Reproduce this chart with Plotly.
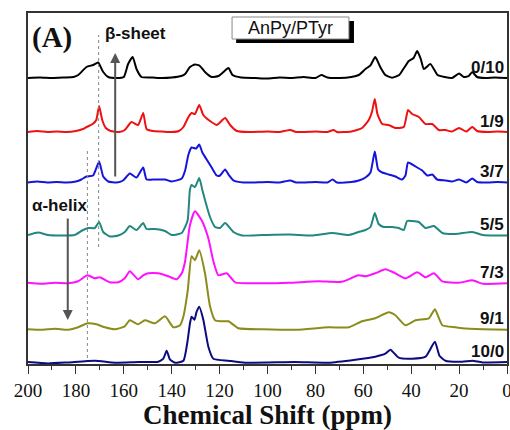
import plotly.graph_objects as go

# 13C CP/MAS spectra of AnPy/PTyr blends, stacked with vertical offsets
labels = ["0/10", "1/9", "3/7", "5/5", "7/3", "9/1", "10/0"]
colors = ["#000000", "#ee1111", "#1414dd", "#22887f", "#ff11ff", "#8c8c1c", "#0c0c80"]
offsets = [286, 232, 181.5, 129, 80.7, 34.7, 1.3]

ppm_0_10 = [200, 195, 190, 185, 181, 179, 175.6, 172.8, 170.7, 168.6, 166.5, 163, 160, 158.2, 156.3, 154.7,
            152.6, 148, 144, 140, 136, 134.4, 132.4, 130.3, 128.2, 126.1, 123.3, 120.5, 118.4, 116.3, 114.6,
            111, 105, 100, 95, 90, 85, 80, 77.5, 75, 70, 65, 61.9, 59.1, 57, 55, 52.9, 50.8, 48, 45, 43, 41,
            39, 37.5, 36, 34.7, 32, 29, 26, 23, 20, 18, 16, 14.5, 12.5, 9, 5, 0]
int_0_10 = [0, 0.5, 0, 0.5, 1, 3, 11, 13, 15.5, 6, 1, 0, 1, 14, 21, 9,
            1, 0.5, 0, 0.5, 2, 4, 11, 13.5, 12, 6, 1, 2, 6, 10, 3,
            0.5, 0, -0.5, 0.5, 0, 1, 0, 3, 0.5, 0, 1, 3, 9, 12.7, 21, 11, 3, 0.3, 3, 10, 17,
            20, 27, 19, 9, 14, 3, 1, 0, 4.5, 1, 2, 6, 1, 0, 0.5, 0]

ppm_1_9 = [200, 196, 192, 188, 184, 180, 177, 175.5, 173, 171.5, 170.3, 169, 167.5, 165.5, 162, 159.6,
           156.8, 154, 151.9, 150.5, 148, 144, 140, 137, 135.1, 133, 131.7, 130.3, 128.5, 126.8, 124,
           121.2, 117.7, 115.6, 112.8, 108, 100, 95, 90.5, 88, 80, 75, 72.4, 71, 65, 60.5, 57.7, 56.4,
           55.2, 54.1, 52.1, 49.4, 46.6, 43.1, 41.3, 39.6, 36.8, 34, 31.2, 28.5, 25.7, 23, 20, 17,
           14.5, 12.5, 8, 4, 0]
int_1_9 = [0, 1, 0, 0.5, 0, 1, 3, 5, 8, 12, 26, 12, 4, 1, 0, 2,
           10, 7, 19, 3, 1, 0.5, 0, 1, 5, 15, 19, 18, 27, 17, 11,
           7, 14, 7, 1, 0, 0.5, 0, 2, 0, 0.5, 0, 2, 0, 0.5, 4, 12, 20,
           33, 18, 8, 7, 4, 5, 22, 18, 15, 8, 8, 2, 2, 0.5, 4, 0.5,
           5, 1, 0, 0.5, 0]

ppm_3_7 = [200, 196, 192, 188, 184, 180, 177.7, 175.6, 172.8, 170.3, 168.6, 166.5, 163, 160.3, 157.5,
           154.7, 151.9, 150.5, 147, 142.8, 140, 135.8, 134.4, 133, 131.7, 129.8, 128.5, 127.2, 125.4,
           123.3, 121.2, 119.8, 117.7, 116.3, 114.2, 110, 100, 95, 90.5, 88, 80, 75, 72.8, 71, 65, 61.9,
           59.1, 57, 55.2, 53.8, 52.1, 49.4, 46.6, 43.8, 42.4, 41.3, 38.2, 35.4, 33.3, 31.2, 29.2, 25.7,
           23, 20, 17, 14.5, 12.5, 8, 4, 0]
int_3_7 = [0, 1, 0, 0.5, 0, 1, 3, 6, 7, 21, 6, 1, 0, 2, 9,
           5, 15, 3, 3, 3, 1, 4, 12, 28, 35, 34, 38, 30, 23,
           15, 7, 7, 13, 8, 2, 0, 0.5, 0, 2, 0, 0.5, 0, 3, 0, 0.5, 2,
           5, 10, 31, 13, 10, 8, 6, 3, 7, 20, 16, 12, 7, 8, 3, 2,
           1, 3, 0, 4, 0.5, 0, 0.5, 0]

ppm_5_5 = [200, 195.8, 191.6, 186, 180.5, 177, 174.9, 172.1, 170.3, 168.6, 165.8, 162.3, 159.6, 157.5,
           154.7, 151.9, 150.5, 147, 142.8, 140, 135.8, 134.4, 133.3, 132.4, 131.7, 130.3, 128.5, 127.2,
           126.1, 124, 121.9, 119.8, 117.7, 114.2, 110.7, 102, 91, 81, 73, 66, 62, 59.1, 57, 55.2, 53.6,
           51.5, 48, 45.2, 43.1, 41.7, 39.6, 36.8, 34, 30.5, 27, 21.5, 14.5, 10, 5, 0]
int_5_5 = [0, 2.5, 0, -0.5, 0, 5, 7, 7, 13, 3, -1.5, -0.5, 3, 9,
           5, 12, 6, 6, 4, 0, 2, 8, 15, 45, 50, 48, 57, 45,
           35, 18, 8, 7, 12, 3, -0.5, 0, 0.5, -0.5, 2, 0, 3, 5, 8, 22, 11,
           8, 8, 7, 5, 14, 14, 13, 7, 9, 2, 1, 3, 0, -0.5, -0.5]

ppm_7_3 = [200, 194.4, 188.8, 183.3, 179.1, 175.2, 172.1, 170, 165.8, 162.3, 159.6, 157.5, 154, 151.9,
           149.8, 145.6, 141.4, 137.9, 135.8, 134.4, 132.4, 130.3, 127.5, 124.7, 122.6, 120.5, 117,
           113.5, 102, 91, 78.7, 69, 62, 59.1, 55, 50.8, 46.6, 42.4, 37.5, 34, 30.5, 27, 20, 14.5, 10, 0]
int_7_3 = [0.5, -0.5, 0.5, 0, 2, 8, 5, 6, 1, 1, 5, 12, 4, 8,
           10, 10, 7, 4, 10, 22, 58, 72, 63, 45, 22, 8, 10,
           1, 0, 0.5, 2, 1.5, 8, 7, 10, 14, 10, 5, 11, 6, 10, 2, 0.5, 3, -0.5, 0]

ppm_9_1 = [200, 194.4, 188.8, 183.3, 179.1, 175.2, 171.4, 167.9, 163.7, 159.6, 157.5, 154, 151.2, 147,
           142.8, 139.3, 136.5, 135.1, 133.3, 131.7, 130.3, 128.5, 126.1, 124, 121.9, 119.1, 116.3,
           112.1, 102, 88, 74.5, 66, 60.5, 55, 49.4, 46.6, 42.4, 38.2, 32.6, 30.1, 27, 21.5, 18.7, 10, 0]
int_9_1 = [0, -0.5, 0.5, -0.5, 2, 6, 5, 2, 0, 3, 9, 5, 9, 6,
           13, 2, 4, 13, 39, 73, 69, 79, 56, 23, 9, 8, 8,
           1, 0, -0.5, 2, 2, 8, 11, 17, 14, 4, 9, 11, 20, 4, 2, 1, 0, -0.5]

ppm_10_0 = [200, 191.6, 183.3, 172.1, 163.7, 154, 145.6, 143.5, 142.1, 140.7, 138.6, 135.1, 133.3, 132.4,
            131.7, 130.5, 129.6, 128.5, 126.8, 124.7, 122.6, 116.3, 109.4, 88.4, 74.5, 63.3, 55, 50.8,
            48.7, 45.2, 39.6, 34, 30.1, 28.2, 25.7, 18.7, 14.5, 10.2, 0]
int_10_0 = [0.7, -0.7, 0.3, 2, 0, 0.7, 1, 4, 12, 3, 0, 2, 23, 39,
            46, 43, 51, 56, 43, 16, 4, 2, 0, 0.7, 0, 3, 6, 9,
            13, 5, 4, 6, 21, 7, 2, 1, 2, 0.3, 0.7]

ppm_sets = [ppm_0_10, ppm_1_9, ppm_3_7, ppm_5_5, ppm_7_3, ppm_9_1, ppm_10_0]
int_sets = [int_0_10, int_1_9, int_3_7, int_5_5, int_7_3, int_9_1, int_10_0]

# secondary-structure reference shifts (ppm)
beta_sheet_ppm = 170.5
alpha_helix_ppm = 175.2

fig = go.Figure()
for name, col, off, xs, ys in zip(labels, colors, offsets, ppm_sets, int_sets):
    fig.add_trace(go.Scatter(
        x=xs, y=[v + off for v in ys], mode="lines", name=name,
        line=dict(color=col, width=2, shape="spline", smoothing=0.5),
        showlegend=False, hoverinfo="skip"))
    fig.add_annotation(x=0.6, y=off + 11, text="<b>%s</b>" % name, showarrow=False,
                       xanchor="right", yanchor="middle",
                       font=dict(family="Liberation Sans", size=17, color="#111"))

# dotted guide lines at the beta-sheet and alpha-helix carbonyl shifts
fig.add_shape(type="line", x0=beta_sheet_ppm, x1=beta_sheet_ppm, y0=117, y1=329,
              line=dict(color="#888", width=1, dash="dot"))
fig.add_shape(type="line", x0=alpha_helix_ppm, x1=alpha_helix_ppm, y0=6, y1=216,
              line=dict(color="#888", width=1, dash="dot"))

# trend arrows
fig.add_annotation(x=163.6, y=311, ax=163.6, ay=186, axref="x", ayref="y", xref="x", yref="y",
                   text="", showarrow=True, arrowhead=2, arrowsize=1, arrowwidth=2, arrowcolor="#555")
fig.add_annotation(x=183.4, y=44, ax=183.4, ay=147, axref="x", ayref="y", xref="x", yref="y",
                   text="", showarrow=True, arrowhead=2, arrowsize=1, arrowwidth=2, arrowcolor="#555")

fig.add_annotation(x=155.3, y=331, text="<b>\u03b2-sheet</b>", showarrow=False,
                   font=dict(family="Liberation Sans", size=17, color="#111"))
fig.add_annotation(x=187, y=159, text="<b>\u03b1-helix</b>", showarrow=False,
                   font=dict(family="Liberation Sans", size=17, color="#111"))
fig.add_annotation(x=190, y=327, text="<b>(A)</b>", showarrow=False,
                   font=dict(family="Liberation Serif", size=29, color="#111"))

# sample legend box with drop shadow
fig.add_shape(type="rect", x0=113.1, x1=63.9, y0=321, y1=343, fillcolor="#000",
              line=dict(width=0))
fig.add_shape(type="rect", x0=114.8, x1=66, y0=325, y1=347, fillcolor="#fff",
              line=dict(color="#888", width=1))
fig.add_annotation(x=90.4, y=336, text="AnPy/PTyr", showarrow=False,
                   font=dict(family="Liberation Sans", size=18, color="#111"))

fig.add_annotation(xref="paper", yref="paper", x=0.5, y=-0.145, text="<b>Chemical Shift (ppm)</b>",
                   showarrow=False, yanchor="middle",
                   font=dict(family="Liberation Serif", size=27, color="#111"))

fig.update_xaxes(range=[200, -0.001], tickmode="linear", tick0=0, dtick=20, ticks="outside",
                 ticklen=8, tickwidth=1.2, tickcolor="#333", showgrid=False, zeroline=False,
                 showline=True, linecolor="#333", linewidth=1.5, mirror=True,
                 ticklabeloverflow="allow",
                 tickfont=dict(family="Liberation Serif", size=19, color="#111"),
                 minor=dict(dtick=10, ticks="outside", ticklen=4, tickcolor="#333", showgrid=False),
                 automargin=False)
fig.update_yaxes(range=[0, 351], showticklabels=False, ticks="", showgrid=False, zeroline=False,
                 showline=True, linecolor="#333", linewidth=1.5, mirror=True, automargin=False)

fig.update_layout(width=510, height=430, margin=dict(l=28, r=3, t=13, b=66),
                  paper_bgcolor="white", plot_bgcolor="white")

fig.write_html("out.html")
